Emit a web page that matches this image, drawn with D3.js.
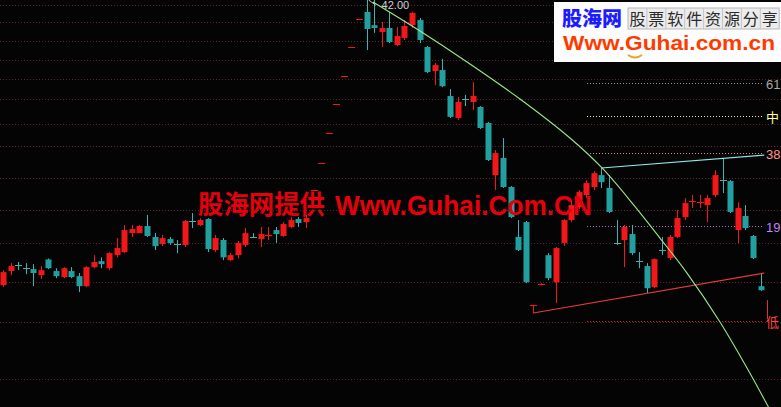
<!DOCTYPE html>
<html><head><meta charset="utf-8">
<script src="https://cdn.jsdelivr.net/npm/d3@7/dist/d3.min.js"></script>
<style>html,body{margin:0;padding:0;background:#000;overflow:hidden}svg{display:block}</style>
</head><body><svg id="chart" width="781" height="407"></svg>
<script>
// ---------------- data ----------------
const opens  = [16.16,16.92,17.28,17.10,17.03,16.70,17.58,16.92,16.59,16.92,16.64,16.10,17.14,17.48,17.08,17.83,18.01,19.17,19.17,19.62,18.93,18.50,18.80,18.52,18.44,19.97,19.69,20.08,18.13,18.74,17.54,17.83,18.44,18.95,18.80,19.03,19.36,18.99,19.56,20.08,19.88,22.09,24.14,26.64,29.30,32.12,35.36,38.77,39.68,37.99,37.15,37.64,35.59,36.43,37.99,38.64,35.36,32.67,32.78,30.09,28.00,29.82,29.51,29.03,27.54,23.20,24.55,22.31,18.93,19.88,15.10,16.19,17.83,16.31,18.56,20.01,20.88,21.73,22.31,23.20,22.24,18.58,18.74,19.11,17.50,17.20,16.05,18.15,17.66,18.93,20.21,21.28,21.21,21.02,21.73,22.84,22.75,19.36,20.28,18.99,16.10];
const highs  = [16.97,17.37,17.43,17.37,17.31,17.20,17.64,17.08,17.14,17.14,16.81,17.20,17.83,17.70,18.01,18.86,19.69,19.69,19.69,20.35,19.17,19.05,18.93,18.74,20.01,20.48,20.14,20.14,19.05,18.86,17.95,18.68,19.49,19.17,19.56,19.56,19.56,19.88,20.21,20.21,20.35,22.09,24.14,26.64,29.30,32.12,35.36,38.77,42.00,41.27,38.39,39.68,37.77,38.64,39.68,38.90,35.48,33.54,33.99,30.79,29.99,30.20,31.51,29.11,27.63,25.19,26.21,22.38,20.01,19.95,15.13,16.26,17.95,18.31,20.08,21.37,22.09,22.82,23.51,23.75,23.20,20.01,19.69,19.69,18.01,17.37,17.64,18.93,19.05,20.68,21.51,21.73,21.73,21.73,23.59,24.55,22.82,21.23,21.02,19.05,16.81];
const lows   = [16.05,16.70,16.97,16.75,16.10,16.48,17.03,16.53,16.53,16.53,15.79,16.05,17.08,17.08,16.97,17.70,17.95,18.93,19.17,18.93,18.13,18.37,18.44,17.95,18.31,19.49,19.62,18.01,18.01,17.54,17.48,17.64,18.31,18.86,18.31,18.74,18.56,18.93,19.49,19.56,19.49,22.09,24.14,26.64,29.30,32.12,35.36,38.77,35.01,37.03,35.36,35.82,35.48,36.18,37.64,35.82,32.45,31.19,30.98,28.00,27.81,29.11,28.74,27.00,24.30,22.09,22.24,20.14,18.07,16.26,14.74,16.16,16.42,15.23,18.37,19.88,20.75,21.51,22.09,22.24,20.48,18.44,17.14,17.83,17.08,15.74,15.99,17.83,17.54,18.86,20.01,20.82,20.82,19.88,21.58,21.87,20.48,18.56,19.36,17.60,15.85];
const closes = [16.86,17.20,17.24,17.06,16.81,16.97,17.08,16.64,17.08,16.59,16.10,17.14,17.43,17.31,17.95,18.25,19.36,19.43,19.62,18.99,18.37,18.86,18.56,18.48,19.95,19.93,20.01,18.19,18.86,17.70,17.83,18.56,19.17,18.91,19.11,19.07,19.11,19.75,20.01,19.82,20.14,22.09,24.14,26.64,29.30,32.12,35.36,38.77,37.52,37.64,37.64,35.94,36.66,37.89,39.55,36.18,32.56,33.32,31.08,28.10,29.51,29.78,30.09,27.09,24.38,24.94,22.31,20.21,18.13,16.31,15.12,16.23,16.53,18.25,20.01,21.02,21.94,22.60,23.35,22.67,20.55,18.54,19.56,17.95,17.46,15.99,17.60,18.11,18.93,20.14,21.16,21.32,21.25,21.51,23.20,22.80,20.55,20.82,19.49,17.66,15.89];

// price grid (dotted horizontal lines)
const gridPrices = [40.6,38.4,36.1,33.9,31.8,29.8,27.45,25.5,23.0,20.7,18.55,16.3,14.3,11.85];

// golden-section levels (low 14.35 -> high 42.00)
const fibLabels = ["61","中","38","19","低"];
const fibPrices = [31.44,28.18,24.91,19.63,14.35];
const fibColors = ["#9a9a9a","#f0f0c8","#e09090","#b070d8","#d83030"];
const fibLabelColors = ["#a8a8a8","#ffffa0","#ff9a8a","#c080ff","#ff4040"];
const fibFrom = 77.1, fibTo = 100.3;

// curve indicator (green)
const curveIdx = [48.84,55.05,61.65,68.25,74.85,79.08,83.17,86.73,90.30,94.65,98.22,101.25];
const curveVal = [41.00,37.27,33.44,29.80,26.21,23.75,21.09,18.86,16.81,14.31,12.30,10.72];

// trend lines
const resistIdx = [79, 100.5], resistVal = [23.75, 24.77];
const supportIdx = [70, 100.5], supportVal = [14.74, 16.81];

const highLabel = "42.00", highIndex = 48;

// ---------------- drawing ----------------
const W = 781, H = 407;
const svg = d3.select("#chart");
svg.append("rect").attr("width", W).attr("height", H).attr("fill", "#040404");

const x = d3.scaleLinear().domain([0, 100]).range([3, 760.5]);
const y = d3.scaleLog().domain([10.82, 41.27]).range([H, 0]);

const UP = "#f01818", DOWN = "#22a0a0", DOWNW = "#3ab4b4";

// grid
svg.append("g").selectAll("line").data(gridPrices).join("line")
  .attr("x1", 0).attr("x2", W)
  .attr("y1", d => Math.round(y(d)) + 0.5).attr("y2", d => Math.round(y(d)) + 0.5)
  .attr("stroke", "#5e2424").attr("stroke-dasharray", "1,2").attr("stroke-width", 1);

// fib lines
const fg = svg.append("g");
fibPrices.forEach((p, k) => {
  const yy = Math.round(y(p)) + 0.5;
  fg.append("line").attr("x1", x(fibFrom)).attr("x2", x(fibTo)).attr("y1", yy).attr("y2", yy)
    .attr("stroke", fibColors[k]).attr("stroke-dasharray", "1,2");
  fg.append("text").attr("x", 766).attr("y", yy + 5).text(fibLabels[k])
    .attr("fill", fibLabelColors[k]).attr("font-size", 13)
    .attr("font-family", "'Liberation Sans','Noto Sans CJK SC',sans-serif");
});
// red tick above the 低 label
fg.append("line").attr("x1", 767.5).attr("x2", 767.5).attr("y1", y(15.38)).attr("y2", y(14.45))
  .attr("stroke", "#e03030");

// candles
const idx = d3.range(opens.length);
const cg = svg.append("g");
const bw = 6;
idx.forEach(i => {
  const o = opens[i], c = closes[i], h = highs[i], l = lows[i];
  const up = c >= o;
  const col = up ? UP : DOWN;
  const cx = Math.round(x(i)) + 0.5;
  cg.append("line").attr("x1", cx).attr("x2", cx).attr("y1", y(h)).attr("y2", y(l))
    .attr("stroke", up ? UP : DOWNW).attr("stroke-width", 1);
  const top = y(Math.max(o, c)), bot = y(Math.min(o, c));
  if (bot - top < 1.5) {
    cg.append("line").attr("x1", cx - bw / 2 - 0.5).attr("x2", cx + bw / 2 + 0.5)
      .attr("y1", Math.round((top + bot) / 2) + 0.5).attr("y2", Math.round((top + bot) / 2) + 0.5)
      .attr("stroke", up ? UP : DOWNW).attr("stroke-width", 1);
  } else {
    cg.append("rect").attr("x", cx - bw / 2).attr("width", bw)
      .attr("y", top).attr("height", bot - top).attr("fill", col);
  }
});

// lines
const lineGen = d3.line().x(d => x(d[0])).y(d => y(d[1]));
svg.append("path").datum(d3.zip(supportIdx, supportVal)).attr("d", lineGen)
  .attr("fill", "none").attr("stroke", "#e83a3a").attr("stroke-width", 1.2);
svg.append("path").datum(d3.zip(resistIdx, resistVal)).attr("d", lineGen)
  .attr("fill", "none").attr("stroke", "#8ee8e8").attr("stroke-width", 1.2);
svg.append("path").datum(d3.zip(curveIdx, curveVal))
  .attr("d", d3.line().x(d => x(d[0])).y(d => y(d[1])).curve(d3.curveCatmullRom.alpha(0.5)))
  .attr("fill", "none").attr("stroke", "#9be88a").attr("stroke-width", 1.1);

// high label
svg.append("line").attr("x1", x(highIndex) + 2).attr("y1", 0).attr("x2", x(highIndex) + 9).attr("y2", 5)
  .attr("stroke", "#c8c8c8");
svg.append("text").attr("x", x(highIndex) + 15).attr("y", 9).text(highLabel)
  .attr("fill", "#d0d0d0").attr("font-size", 11)
  .attr("font-family", "'Liberation Sans',sans-serif");

// watermark in the middle
svg.append("text").attr("x", 198).attr("y", 214).text("股海网提供")
  .attr("fill", "#e6000c").attr("font-size", 26).attr("font-weight", "bold")
  .attr("font-family", "'Noto Sans CJK SC',sans-serif")
  .attr("textLength", 127).attr("lengthAdjust", "spacingAndGlyphs");
svg.append("text").attr("x", 335).attr("y", 215).text("Www.Guhai.Com.CN")
  .attr("fill", "#e6000c").attr("font-size", 28).attr("font-weight", "bold")
  .attr("font-family", "'Liberation Sans',sans-serif")
  .attr("textLength", 257).attr("lengthAdjust", "spacingAndGlyphs");

// logo box top right
const lg = svg.append("g");
lg.append("rect").attr("x", 554).attr("y", 2).attr("width", 227).attr("height", 60).attr("fill", "#fdfdfd");
lg.append("text").attr("x", 562).attr("y", 26).text("股海网")
  .attr("fill", "#1c1cff").attr("font-size", 20).attr("font-weight", 900)
  .attr("font-family", "'Noto Sans CJK SC',sans-serif")
  .attr("textLength", 60).attr("lengthAdjust", "spacingAndGlyphs");
const slogan = "股票软件资源分享".split("");
const cellW = 18.9;
lg.append("rect").attr("x", 628).attr("y", 8).attr("width", cellW * 8).attr("height", 21)
  .attr("fill", "#ececec").attr("stroke", "#b8b8b8");
slogan.forEach((ch, k) => {
  if (k > 0) lg.append("line").attr("x1", 628 + k * cellW).attr("x2", 628 + k * cellW)
    .attr("y1", 8).attr("y2", 29).attr("stroke", "#c4c4c4");
  lg.append("text").attr("x", 628 + k * cellW + cellW / 2).attr("y", 25).text(ch)
    .attr("text-anchor", "middle").attr("fill", "#2a2a2a").attr("font-size", 16)
    .attr("font-family", "'Noto Sans CJK SC',sans-serif");
});
lg.append("text").attr("x", 563).attr("y", 50).text("Www.Guhai.com.cn")
  .attr("fill", "#ff3a00").attr("font-size", 21).attr("font-weight", "bold")
  .attr("font-family", "'Liberation Sans',sans-serif")
  .attr("textLength", 212).attr("lengthAdjust", "spacingAndGlyphs");
lg.append("path").attr("d", "M628,55 Q635,60 642,55").attr("fill", "none")
  .attr("stroke", "#f0a020").attr("stroke-width", 2);
</script>
</body></html>
